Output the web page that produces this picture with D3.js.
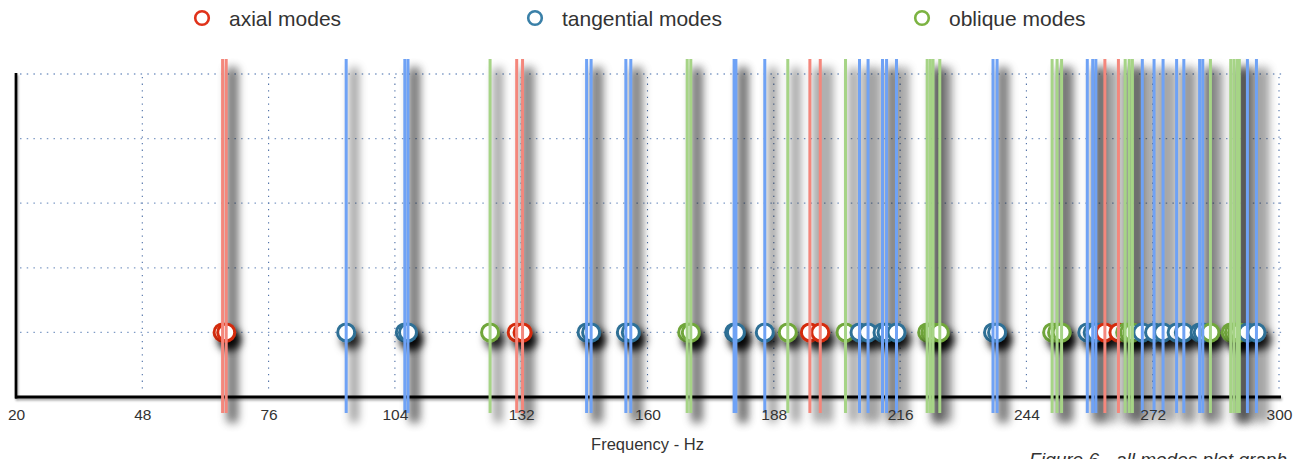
<!DOCTYPE html>
<html>
<head>
<meta charset="utf-8">
<script src="https://cdn.jsdelivr.net/npm/d3@7"></script>
<style>
  html, body { margin: 0; padding: 0; background: #fff; }
  svg { display: block; }
  text { font-family: "Liberation Sans", Arial, Helvetica, sans-serif; }
</style>
</head>
<body>
<svg id="chart" width="1303" height="459"></svg>
<script>
// Room mode frequencies (Hz), grouped by mode type
const axialModes = [65.8, 66.6, 131.0, 132.3, 196.0, 198.3, 261.4, 264.4];
const tangentialModes = [93.2, 106.2, 106.9, 146.5, 147.5, 155.2, 156.3, 179.2, 179.6, 186.0,
  207.0, 208.9, 212.1, 213.0, 215.2, 236.6, 237.5, 257.5, 258.7, 259.4,
  269.7, 272.3, 274.3, 277.3, 278.9, 282.4, 283.1, 293.0, 295.0];
const obliqueModes = [125.1, 168.8, 169.6, 191.1, 203.9, 222.0, 222.7, 223.3, 224.8,
  249.7, 250.8, 251.8, 265.9, 266.8, 267.5, 284.8, 289.3, 290.0, 290.7, 291.2];

const xTicks = [20, 48, 76, 104, 132, 160, 188, 216, 244, 272, 300];
const gridRows = [1, 2, 3, 4, 5];
const modeRow = 1;

const seriesNames = ["axial modes", "tangential modes", "oblique modes"];
const series = [
  { name: seriesNames[0], values: axialModes, line: "#f4877c", ring: "#d42c0a", key: "#e0321a" },
  { name: seriesNames[1], values: tangentialModes, line: "#6fa2f5", ring: "#2e7096", key: "#3a80a8" },
  { name: seriesNames[2], values: obliqueModes, line: "#a6d486", ring: "#70a63a", key: "#7cb342" }
];

const W = 1303, H = 459;
const svg = d3.select("#chart");

const x = d3.scaleLinear().domain([20, 300]).range([16, 1279]);
const y = d3.scaleLinear().domain([0, 5]).range([397, 74]);

// Filters: soft shadow behind the mode lines, darker drop shadow for rings, thin one for axes
const defs = svg.append("defs");
const lineShadow = defs.append("filter").attr("id", "lineShadow")
  .attr("filterUnits", "userSpaceOnUse").attr("x", 0).attr("y", 0).attr("width", W).attr("height", H);
lineShadow.append("feGaussianBlur").attr("in", "SourceAlpha").attr("stdDeviation", 5).attr("result", "b");
lineShadow.append("feOffset").attr("in", "b").attr("dx", 8).attr("dy", 9).attr("result", "o");
lineShadow.append("feFlood").attr("flood-color", "#000").attr("flood-opacity", 0.5).attr("result", "f");
lineShadow.append("feComposite").attr("in", "f").attr("in2", "o").attr("operator", "in");

const ringShadow = defs.append("filter").attr("id", "ringShadow")
  .attr("x", "-100%").attr("y", "-100%").attr("width", "300%").attr("height", "300%");
ringShadow.append("feDropShadow").attr("dx", 5).attr("dy", 7).attr("stdDeviation", 4.5)
  .attr("flood-color", "#000").attr("flood-opacity", 0.85);

const axisShadow = defs.append("filter").attr("id", "axisShadow")
  .attr("filterUnits", "userSpaceOnUse").attr("x", 0).attr("y", 0).attr("width", W).attr("height", H);
axisShadow.append("feDropShadow").attr("dx", 1).attr("dy", 2).attr("stdDeviation", 1)
  .attr("flood-color", "#000").attr("flood-opacity", 0.35);

// Dotted grid
const grid = svg.append("g").attr("class", "grid");
grid.selectAll("line.h").data(gridRows).join("line")
  .attr("class", "h")
  .attr("x1", x(20) + 4).attr("x2", x(300) + 5)
  .attr("y1", d => y(d)).attr("y2", d => y(d))
  .attr("stroke", "#7f9bc6").attr("stroke-width", 1.3).attr("stroke-dasharray", "1.5,5.2");
grid.selectAll("line.v").data(xTicks.slice(1)).join("line")
  .attr("class", "v")
  .attr("x1", d => x(d)).attr("x2", d => x(d))
  .attr("y1", y(5) + 3).attr("y2", y(0) - 4)
  .attr("stroke", "#4d6fa6").attr("stroke-width", 1.1).attr("stroke-dasharray", "1.3,5.3");

const lineTop = y(5) - 15, lineBottom = y(0) + 16;

const allModes = series.flatMap(s => s.values.map(v => ({ f: v, s })))
  .sort((a, b) => a.f - b.f);

// Shadow pass for the mode lines
svg.append("g").selectAll("line").data(allModes).join("line")
  .attr("x1", d => x(d.f)).attr("x2", d => x(d.f))
  .attr("y1", lineTop).attr("y2", lineBottom)
  .attr("stroke", "#000").attr("stroke-width", 7)
  .attr("filter", "url(#lineShadow)");

// Axes
const axes = svg.append("g").attr("filter", "url(#axisShadow)");
axes.append("line")
  .attr("x1", x(20)).attr("x2", x(20)).attr("y1", y(5) - 1).attr("y2", y(0) + 1.5)
  .attr("stroke", "#000").attr("stroke-width", 2.7);
axes.append("line")
  .attr("x1", x(20) - 1).attr("x2", x(300) + 2).attr("y1", y(0)).attr("y2", y(0))
  .attr("stroke", "#000").attr("stroke-width", 3);

// Mode rings
svg.append("g").selectAll("circle").data(allModes).join("circle")
  .attr("cx", d => x(d.f)).attr("cy", y(modeRow)).attr("r", 8.5)
  .attr("fill", "#fff").attr("stroke", d => d.s.ring).attr("stroke-width", 3)
  .attr("filter", "url(#ringShadow)");

// Mode lines on top
svg.append("g").selectAll("line").data(allModes).join("line")
  .attr("x1", d => x(d.f)).attr("x2", d => x(d.f))
  .attr("y1", lineTop).attr("y2", lineBottom)
  .attr("stroke", d => d.s.line).attr("stroke-width", 3);

// Tick labels
const xAxis = d3.axisBottom(x).tickValues(xTicks).tickSize(0).tickPadding(0).tickFormat(d3.format("d"));
const gx = svg.append("g").attr("transform", `translate(0,${y(0)})`).call(xAxis);
gx.select(".domain").remove();
gx.selectAll("text")
  .attr("y", 23).attr("dy", 0)
  .attr("fill", "#333").attr("font-size", 15.5)
  .attr("font-family", "'Liberation Sans', Arial, sans-serif");

// Axis title
svg.append("text")
  .attr("x", (x(20) + x(300)) / 2).attr("y", 450)
  .attr("text-anchor", "middle").attr("fill", "#333").attr("font-size", 16.5)
  .text("Frequency - Hz");

// Legend
const legendX = [202, 535, 922];
const legend = svg.append("g").selectAll("g").data(series).join("g")
  .attr("transform", (d, i) => `translate(${legendX[i]},18)`);
legend.append("circle").attr("r", 6.8).attr("fill", "none")
  .attr("stroke", d => d.key).attr("stroke-width", 2.6);
legend.append("text").attr("x", 27).attr("y", 7.5)
  .attr("fill", "#333").attr("font-size", 21)
  .text(d => d.name);

// Caption
svg.append("text")
  .attr("x", 1287).attr("y", 466).attr("text-anchor", "end")
  .attr("font-family", "'Liberation Serif', 'DejaVu Serif', serif")
  .attr("font-style", "italic").attr("font-size", 19).attr("fill", "#333")
  .text("Figure 6 - all modes plot graph");
</script>
</body>
</html>
